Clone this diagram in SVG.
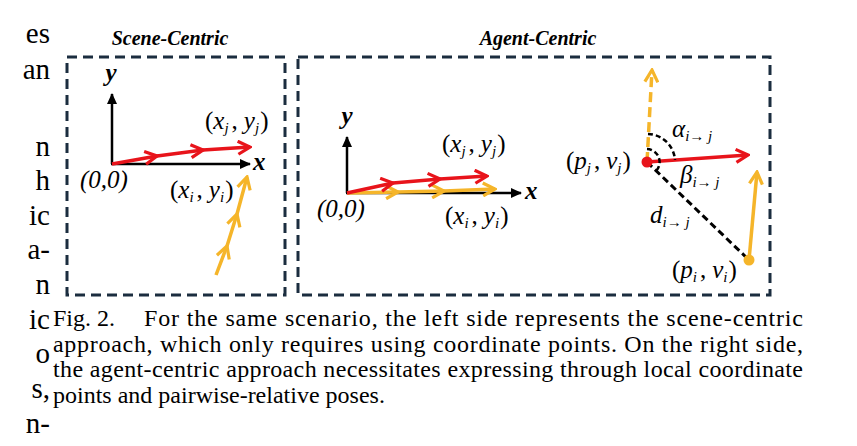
<svg xmlns="http://www.w3.org/2000/svg" width="857" height="446" viewBox="0 0 857 446">
<defs>
<style>
.box{fill:none;stroke:#1b2d3f;stroke-width:3;stroke-dasharray:10 6}
.ax{stroke:#000;stroke-width:2.5;fill:none}
.red{stroke:#e8141b;stroke-width:3.5;fill:none;stroke-linejoin:round}
.yel{stroke:#f5b52a;stroke-width:3.5;fill:none;stroke-linejoin:round}
.ttl{font-family:"Liberation Serif",serif;font-style:italic;font-weight:bold;font-size:20px;fill:#000}
.axl{font-family:"Liberation Serif",serif;font-style:italic;font-weight:bold;font-size:25px;fill:#000}
.m{font-family:"Liberation Serif",serif;font-size:25px;fill:#000}
.s{font-size:15px;font-style:italic}
.it{font-style:italic}
.cap{font-family:"Liberation Serif",serif;font-size:24px;fill:#000}
.body{font-family:"Liberation Serif",serif;font-size:29px;fill:#000;text-anchor:end}
</style>
<marker id="ha" viewBox="-10 -6 12 12" refX="0" refY="0" markerWidth="12" markerHeight="12" markerUnits="userSpaceOnUse" orient="auto"><path d="M-10,-5 L1,0 L-10,5 Z" fill="#000"/></marker>
<marker id="hr" viewBox="-14 -8 16 16" refX="0" refY="0" markerWidth="16" markerHeight="16" markerUnits="userSpaceOnUse" orient="auto"><path d="M-12,-6.5 L0,0 L-12,6.5" fill="none" stroke="#e8141b" stroke-width="3.2"/></marker>
<marker id="hy" viewBox="-14 -8 16 16" refX="0" refY="0" markerWidth="16" markerHeight="16" markerUnits="userSpaceOnUse" orient="auto"><path d="M-12,-6.5 L0,0 L-12,6.5" fill="none" stroke="#f5b52a" stroke-width="3.2"/></marker>
</defs>
<rect width="857" height="446" fill="#fff"/>

<g id="margin-text">
<text class="body" x="50" y="43">es</text>
<text class="body" x="50" y="79">an</text>
<text class="body" x="50" y="156">n</text>
<text class="body" x="50" y="190">h</text>
<text class="body" x="50" y="225">ic</text>
<text class="body" x="50" y="259">a-</text>
<text class="body" x="50" y="294">n</text>
<text class="body" x="50" y="329">ic</text>
<text class="body" x="50" y="363">o</text>
<text class="body" x="50" y="398">s,</text>
<text class="body" x="50" y="433">n-</text>
</g>

<g id="scene-centric">
<text class="ttl" x="170" y="45" text-anchor="middle">Scene-Centric</text>
<rect class="box" x="67" y="57" width="218" height="238"/>
</g>
<g id="agent-centric">
<text class="ttl" x="538" y="45" text-anchor="middle">Agent-Centric</text>
<rect class="box" x="298" y="57" width="472" height="238"/>
</g>

<g id="connectors">
<line class="ax" x1="112" y1="164" x2="112" y2="94" marker-end="url(#ha)"/>
<line class="ax" x1="111" y1="164" x2="250" y2="164" marker-end="url(#ha)"/>
<polyline class="red" points="112,164 157,156 203,150 250,147" marker-mid="url(#hr)" marker-end="url(#hr)"/>
<polyline class="yel" points="216,275 227,246 237,214 247,177" marker-mid="url(#hy)" marker-end="url(#hy)"/>
<line class="ax" x1="347" y1="193" x2="347" y2="137" marker-end="url(#ha)"/>
<line class="ax" x1="346" y1="193" x2="521" y2="193" marker-end="url(#ha)"/>
<polyline class="yel" points="347,193 398,192 444,191 495,189" marker-mid="url(#hy)" marker-end="url(#hy)"/>
<polyline class="red" points="347,193 393,183 440,179 487,176" marker-mid="url(#hr)" marker-end="url(#hr)"/>
<line x1="647" y1="162" x2="652" y2="70" stroke="#f5b52a" stroke-width="3.5" stroke-dasharray="10 5" marker-end="url(#hy)"/>
<line x1="647" y1="162" x2="749" y2="260" stroke="#000" stroke-width="3" stroke-dasharray="7 4"/>
<line class="red" x1="647" y1="162" x2="748" y2="155" marker-end="url(#hr)"/>
<line class="yel" x1="749" y1="260" x2="757" y2="172" marker-end="url(#hy)"/>
<path d="M648,134 A28,28 0 0 1 675,160" fill="none" stroke="#000" stroke-width="2.5" stroke-dasharray="5 3"/>
<path d="M647,149 A13,13 0 0 1 656,171" fill="none" stroke="#000" stroke-width="2.5" stroke-dasharray="5 3"/>
<circle cx="647" cy="162" r="5.5" fill="#e8141b"/>
<circle cx="749" cy="260" r="5.5" fill="#f5b52a"/>
</g>

<g id="labels">
<text class="axl" x="111" y="81" text-anchor="middle">y</text>
<text class="axl" x="253" y="170">x</text>
<text class="axl" x="347" y="124" text-anchor="middle">y</text>
<text class="axl" x="525" y="199">x</text>

<text class="m" x="205" y="129">(<tspan class="it">x</tspan><tspan class="s" dy="4">j</tspan><tspan dy="-4" dx="3">,</tspan><tspan class="it" dx="6">y</tspan><tspan class="s" dy="4">j</tspan><tspan dy="-4" dx="1">)</tspan></text>
<text class="m it" x="80" y="188">(0,0)</text>
<text class="m" x="170" y="198">(<tspan class="it">x</tspan><tspan class="s" dy="4">i</tspan><tspan dy="-4" dx="3">,</tspan><tspan class="it" dx="6">y</tspan><tspan class="s" dy="4">i</tspan><tspan dy="-4" dx="1">)</tspan></text>

<text class="m" x="442" y="152">(<tspan class="it">x</tspan><tspan class="s" dy="4">j</tspan><tspan dy="-4" dx="3">,</tspan><tspan class="it" dx="6">y</tspan><tspan class="s" dy="4">j</tspan><tspan dy="-4" dx="1">)</tspan></text>
<text class="m it" x="317" y="217">(0,0)</text>
<text class="m" x="445" y="224">(<tspan class="it">x</tspan><tspan class="s" dy="4">i</tspan><tspan dy="-4" dx="3">,</tspan><tspan class="it" dx="6">y</tspan><tspan class="s" dy="4">i</tspan><tspan dy="-4" dx="1">)</tspan></text>

<text class="m" x="566" y="169">(<tspan class="it">p</tspan><tspan class="s" dy="4">j</tspan><tspan dy="-4" dx="3">,</tspan><tspan class="it" dx="6">v</tspan><tspan class="s" dy="4">j</tspan><tspan dy="-4" dx="1">)</tspan></text>
<text class="m" x="672" y="278">(<tspan class="it">p</tspan><tspan class="s" dy="4">i</tspan><tspan dy="-4" dx="3">,</tspan><tspan class="it" dx="6">v</tspan><tspan class="s" dy="4">i</tspan><tspan dy="-4" dx="1">)</tspan></text>
<text class="m it" x="672" y="137" font-size="27">α<tspan class="s" dy="4">i→ j</tspan></text>
<text class="m it" x="680" y="183" font-size="27">β<tspan class="s" dy="4">i→ j</tspan></text>
<text class="m it" x="650" y="223" font-size="27">d<tspan class="s" dy="4">i→ j</tspan></text>
</g>

<g id="caption">
<text class="cap" x="53" y="326">Fig. 2.</text>
<text class="cap" x="144" y="326" textLength="659" lengthAdjust="spacing">For the same scenario, the left side represents the scene-centric</text>
<text class="cap" x="53" y="351.5" textLength="750" lengthAdjust="spacing">approach, which only requires using coordinate points. On the right side,</text>
<text class="cap" x="53" y="377" textLength="750" lengthAdjust="spacing">the agent-centric approach necessitates expressing through local coordinate</text>
<text class="cap" x="53" y="402.5">points and pairwise-relative poses.</text>
</g>
</svg>
